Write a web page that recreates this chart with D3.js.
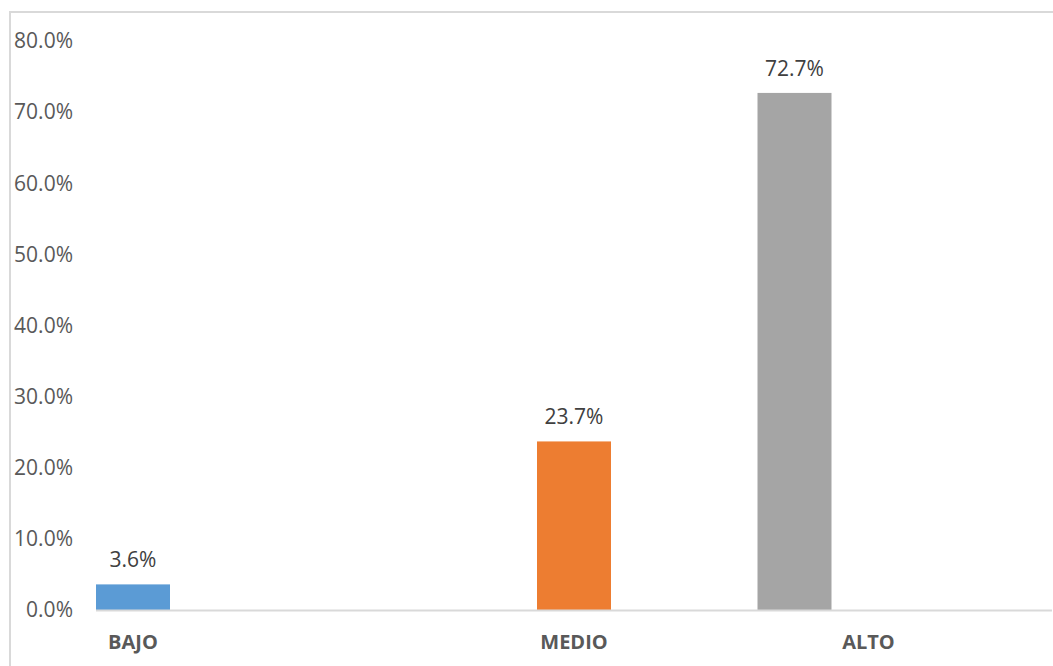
<!DOCTYPE html>
<html>
<head>
<meta charset="utf-8">
<script src="https://cdn.jsdelivr.net/npm/d3@7"></script>
<style>
  html, body { margin: 0; padding: 0; background: #fff; }
  svg { display: block; }
</style>
</head>
<body>
<svg id="chart" width="1053" height="666"></svg>
<script>
// ---- data ----
const slots = ["BAJO", "_gap1", "MEDIO", "ALTO", "_gap2"];
const categories = ["BAJO", "MEDIO", "ALTO"];
const values = [3.6, 23.7, 72.7];
const colors = ["#5B9BD5", "#ED7D31", "#A5A5A5"];
const yTicks = [0, 10, 20, 30, 40, 50, 60, 70, 80];

// ---- layout ----
const W = 1053, H = 666;
const svg = d3.select("#chart");
const font = "'Open Sans', 'Segoe UI', sans-serif";

// chart frame (left and top borders)
svg.append("path")
  .attr("d", "M10,666 L10,12 L1053,12")
  .attr("fill", "none").attr("stroke", "#D9D9D9").attr("stroke-width", 2);

const plot = { left: 96, right: 1052, top: 41, bottom: 610 };

const x = d3.scaleBand()
  .domain(slots)
  .range([plot.left, plot.right])
  .paddingInner(0.6644)
  .paddingOuter(0)
  .align(0);

const y = d3.scaleLinear().domain([0, 80]).range([plot.bottom, plot.top]);

// y tick labels
svg.append("g").selectAll("text")
  .data(yTicks).join("text")
  .attr("x", 73)
  .attr("y", d => y(d))
  .attr("dy", "0.35em")
  .attr("text-anchor", "end")
  .attr("font-family", font)
  .attr("font-size", 21)
  .attr("fill", "#595959")
  .text(d => d3.format(".1f")(d) + "%");

// bars
const data = categories.map((c, i) => ({ cat: c, v: values[i], color: colors[i] }));
svg.append("g").selectAll("rect")
  .data(data).join("rect")
  .attr("x", d => x(d.cat))
  .attr("width", x.bandwidth())
  .attr("y", d => y(d.v))
  .attr("height", d => y(0) - y(d.v))
  .attr("fill", d => d.color);

// x axis baseline
svg.append("line")
  .attr("x1", plot.left).attr("x2", plot.right)
  .attr("y1", y(0) + 0.5).attr("y2", y(0) + 0.5)
  .attr("stroke", "#D9D9D9").attr("stroke-width", 2);

// value labels
svg.append("g").selectAll("text")
  .data(data).join("text")
  .attr("x", d => x(d.cat) + x.bandwidth() / 2)
  .attr("y", d => y(d.v) - 17)
  .attr("text-anchor", "middle")
  .attr("font-family", font)
  .attr("font-size", 21)
  .attr("fill", "#404040")
  .text(d => d3.format(".1f")(d.v) + "%");

// category labels (ALTO label sits one bar-width to the right in the original)
const labelShift = { BAJO: 0, MEDIO: 0, ALTO: x.bandwidth() };
svg.append("g").selectAll("text")
  .data(categories).join("text")
  .attr("x", d => x(d) + x.bandwidth() / 2 + labelShift[d])
  .attr("y", 649)
  .attr("text-anchor", "middle")
  .attr("font-family", font)
  .attr("font-size", 20)
  .attr("font-weight", "bold")
  .attr("fill", "#595959")
  .text(d => d);
</script>
</body>
</html>
